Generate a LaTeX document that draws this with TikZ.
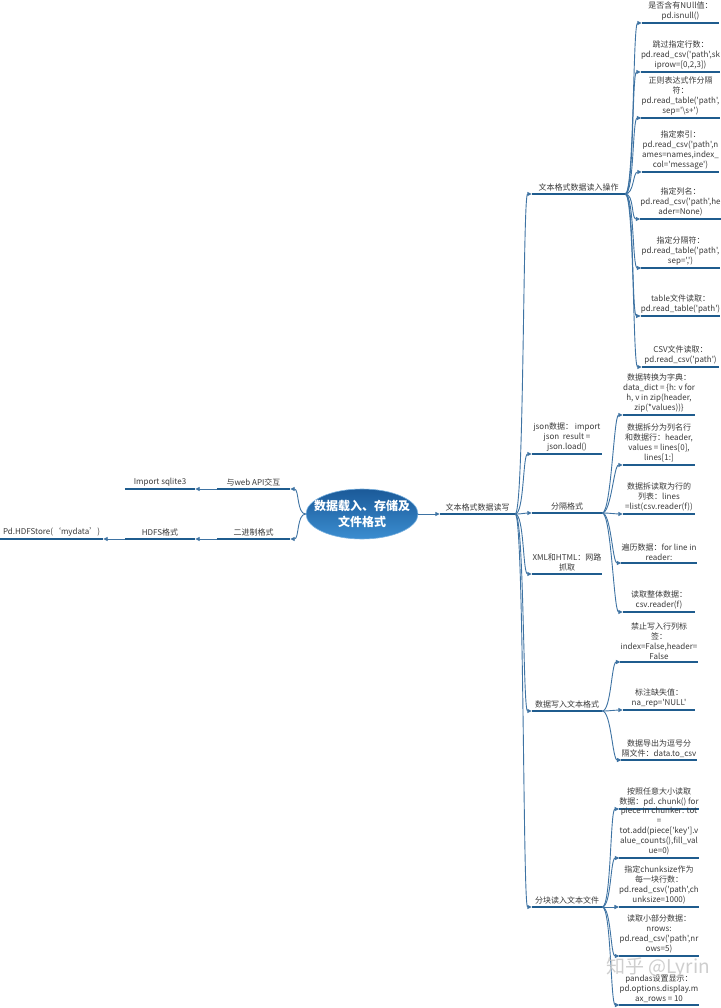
\documentclass[tikz,border=0pt]{standalone}
\usepackage{fontspec}
\newfontfamily\nsc{Noto Sans CJK SC}
\usetikzlibrary{arrows.meta,shapes.geometric}
\definecolor{ulc}{HTML}{1F5C8E}
\definecolor{cnc}{HTML}{3E73A3}
\definecolor{txc}{HTML}{3A3A3A}
\definecolor{elltop}{HTML}{1B5A99}
\definecolor{ellbot}{HTML}{3B8DD0}
\tikzset{
  txt/.style={font=\nsc\fontsize{8}{10}\selectfont, text=txc, align=center, inner xsep=0pt, inner ysep=2.5pt, anchor=south},
  uline/.style={draw=ulc, line width=2.5pt},
  conn/.style={draw=cnc, line width=0.9pt, -{Triangle[length=4.5pt,width=4pt]}},
}
\newcommand\mytopic[5]{%
  \node[txt, minimum width=#4pt] (#1) at (#2,#3) {#5};
  \draw[uline] (#1.south west) -- (#1.south east);}
\newcommand\mycurve[2]{\draw[conn] (#1) .. controls +(9,0) and +(-9,0) .. (#2);}
\begin{document}
\begin{tikzpicture}[x=1pt,y=-1pt]
\fill[white] (0,0) rectangle (720,1008);
\useasboundingbox (0,0) rectangle (720,1008);

% root
\node[ellipse, minimum width=112pt, minimum height=50pt, inner sep=0pt,
      top color=elltop, bottom color=ellbot, draw=ellbot!70!white, line width=0.6pt] (root) at (362,514) {};
\node[font=\nsc\bfseries\fontsize{12}{16}\selectfont, text=white, align=center] (roottxt) at (root.center) {数据载入、存储及\\文件格式};

% level 1 right
\mytopic{n1}{477.5}{514}{75}{文本格式数据读写}
\draw[conn] (root.east) -- (n1.south west);

% level 2
\mytopic{a}{578.5}{194}{93}{文本格式数据读入操作}
\mytopic{b}{567}{454}{70}{json数据： import\\json\ \ result =\\json.load()}
\mytopic{c}{567}{513}{70}{分隔格式}
\mytopic{d}{567}{574}{70}{XML和HTML：网路\\抓取}
\mytopic{e}{567}{711}{70}{数据写入文本格式}
\mytopic{f}{567}{907}{70}{分块读入文本文件}
\foreach \k in {a,b,c,d,e,f}{\mycurve{n1.south east}{\k.south west}}

% group a
\mytopic{a1}{680.5}{23}{77}{是否含有NUll值：\\pd.isnull()}
\mytopic{a2}{680.5}{72}{77}{跳过指定行数：\\pd.read\_csv('path',sk\\iprow=[0,2,3])}
\mytopic{a3}{680.5}{118}{77}{正则表达式作分隔\\符：\\pd.read\_table('path',\\sep='\textbackslash s+')}
\mytopic{a4}{680.5}{172}{77}{指定索引：\\pd.read\_csv('path',n\\ames=names,index\_\\col='message')}
\mytopic{a5}{680.5}{219}{77}{指定列名：\\pd.read\_csv('path',he\\ader=None)}
\mytopic{a6}{680.5}{268}{77}{指定分隔符：\\pd.read\_table('path',\\sep=',')}
\mytopic{a7}{680.5}{316}{77}{table文件读取：\\pd.read\_table('path')}
\mytopic{a8}{680.5}{367}{77}{CSV文件读取：\\pd.read\_csv('path')}
\foreach \k in {a1,a2,a3,a4,a5,a6,a7,a8}{\mycurve{a.south east}{\k.south west}}

% group c
\mytopic{c1}{659}{415}{72}{数据转换为字典：\\data\_dict = \{h: v for\\h, v in zip(header,\\zip(*values))\}}
\mytopic{c2}{659}{465}{72}{数据拆分为列名行\\和数据行：header,\\values = lines[0],\\lines[1:]}
\mytopic{c3}{659}{514}{72}{数据拆读取为行的\\列表：lines\\=list(csv.reader(f))}
\mytopic{c4}{659}{563}{72}{遍历数据：for line in\\reader:}
\mytopic{c5}{659}{612}{72}{读取整体数据：\\csv.reader(f)}
\foreach \k in {c1,c2,c3,c4,c5}{\mycurve{c.south east}{\k.south west}}

% group e
\mytopic{e1}{659}{662}{72}{禁止写入行列标\\签：\\index=False,header=\\False}
\mytopic{e2}{659}{710}{72}{标注缺失值：\\na\_rep='NULL'}
\mytopic{e3}{659}{760}{72}{数据导出为逗号分\\隔文件：data.to\_csv}
\foreach \k in {e1,e2,e3}{\mycurve{e.south east}{\k.south west}}

% group f
\mytopic{f1}{659}{809}{72}{按照任意大小读取\\数据：pd. chunk() for}
\mytopic{f2}{659}{858}{72}{piece in chunker: tot\\=\\tot.add(piece['key'].v\\alue\_counts(),fill\_val\\ue=0)}
\mytopic{f3}{659}{907}{72}{指定chunksize作为\\每一块行数：\\pd.read\_csv('path',ch\\unksize=1000)}
\mytopic{f4}{659}{956}{72}{读取小部分数据：\\nrows:\\pd.read\_csv('path',nr\\ows=5)}
\mytopic{f5}{659}{1005}{72}{pandas设置显示：\\pd.options.display.m\\ax\_rows = 10}
\foreach \k in {f1,f2,f3,f4,f5}{\mycurve{f.south east}{\k.south west}}

% left side
\mytopic{L1}{253.5}{489}{73}{与web API交互}
\mytopic{S1}{160}{489}{70}{Import sqlite3}
\mytopic{L2}{253.5}{539}{73}{二进制格式}
\mytopic{H1}{160}{539}{70}{HDFS格式}
\mytopic{P1}{51.5}{539}{103}{Pd.HDFStore(‘mydata’)}
\draw[conn] (root.west) .. controls +(-9,0) and +(9,0) .. (L1.south east);
\draw[conn] (root.west) .. controls +(-9,0) and +(9,0) .. (L2.south east);
\draw[conn] (L1.south west) -- (S1.south east);
\draw[conn] (L2.south west) -- (H1.south east);
\draw[conn] (H1.south west) -- (P1.south east);

% watermark
\node[font=\nsc\fontsize{19}{19}\selectfont, text=gray!45, opacity=0.85] (wm) at (658,968) {知乎 @Lyrin};
\end{tikzpicture}
\end{document}
